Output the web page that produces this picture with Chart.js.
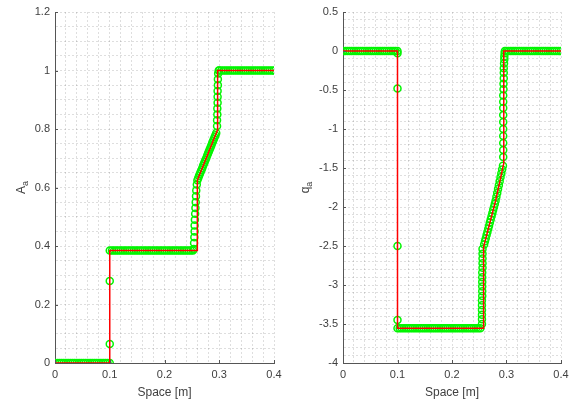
<!DOCTYPE html>
<html>
<head>
<meta charset="utf-8">
<script src="https://cdn.jsdelivr.net/npm/chart.js@4"></script>
<style>
  body { margin: 0; background: #fff; }
  #wrap { position: relative; width: 579px; height: 407px; }
  canvas { position: absolute; top: 0; }
</style>
</head>
<body>
<div id="wrap">
  <canvas id="graficoA" width="290" height="407" style="left:0"></canvas>
  <canvas id="graficoQ" width="289" height="407" style="left:290px"></canvas>
</div>
<script>
// Solucion exacta (linea roja) - area
const rojoAX = [0, 0.1, 0.1, 0.26, 0.26, 0.297, 0.297, 0.4];
const rojoAY = [0, 0, 0.385, 0.385, 0.625, 0.797, 1.0, 1.0];

// Solucion numerica (circulos verdes) - area
const verdeAX = [
  // tramo inicial
  0, 0.004, 0.008, 0.012, 0.016, 0.02, 0.024, 0.028, 0.032, 0.036, 0.04, 0.044, 0.048,
  0.052, 0.056, 0.06, 0.064, 0.068, 0.072, 0.076, 0.08, 0.084, 0.088, 0.092, 0.096, 0.1,
  // salto en x = 0.1
  0.1, 0.1, 0.1,
  // meseta
  0.104, 0.108, 0.112, 0.116, 0.12, 0.124, 0.128, 0.132, 0.136, 0.14, 0.144, 0.148, 0.152,
  0.156, 0.16, 0.164, 0.168, 0.172, 0.176, 0.18, 0.184, 0.188, 0.192, 0.196, 0.2,
  0.204, 0.208, 0.212, 0.216, 0.22, 0.224, 0.228, 0.232, 0.236, 0.24, 0.244, 0.248, 0.252,
  // subida
  0.2535, 0.254, 0.2545, 0.255, 0.255, 0.2555, 0.256, 0.2565, 0.257, 0.2575, 0.258, 0.259, 0.26,
  // rampa
  0.2615, 0.263, 0.2645, 0.266, 0.2675, 0.269, 0.2705, 0.272, 0.2735, 0.275, 0.2765, 0.278,
  0.2795, 0.281, 0.2825, 0.284, 0.2855, 0.287, 0.2885, 0.29, 0.2915, 0.293, 0.2945,
  // subida final
  0.296, 0.296, 0.2965, 0.2965, 0.297, 0.297, 0.297, 0.2975, 0.2975, 0.298, 0.299,
  // tramo final
  0.3, 0.304, 0.308, 0.312, 0.316, 0.32, 0.324, 0.328, 0.332, 0.336, 0.34, 0.344, 0.348,
  0.352, 0.356, 0.36, 0.364, 0.368, 0.372, 0.376, 0.38, 0.384, 0.388, 0.392, 0.396, 0.4
];
const verdeAY = [
  0, 0, 0, 0, 0, 0, 0, 0, 0, 0, 0, 0, 0,
  0, 0, 0, 0, 0, 0, 0, 0, 0, 0, 0, 0, 0,
  0.065, 0.28, 0.385,
  0.385, 0.385, 0.385, 0.385, 0.385, 0.385, 0.385, 0.385, 0.385, 0.385, 0.385, 0.385, 0.385,
  0.385, 0.385, 0.385, 0.385, 0.385, 0.385, 0.385, 0.385, 0.385, 0.385, 0.385, 0.385,
  0.385, 0.385, 0.385, 0.385, 0.385, 0.385, 0.385, 0.385, 0.385, 0.385, 0.385, 0.385, 0.385,
  0.39, 0.41, 0.43, 0.45, 0.47, 0.49, 0.51, 0.53, 0.55, 0.57, 0.59, 0.61, 0.625,
  0.632, 0.639, 0.646, 0.653, 0.66, 0.667, 0.674, 0.681, 0.688, 0.695, 0.702, 0.709,
  0.716, 0.723, 0.73, 0.737, 0.744, 0.751, 0.758, 0.765, 0.772, 0.779, 0.786,
  0.81, 0.83, 0.85, 0.87, 0.89, 0.91, 0.93, 0.95, 0.97, 0.99, 1.0,
  1, 1, 1, 1, 1, 1, 1, 1, 1, 1, 1, 1, 1,
  1, 1, 1, 1, 1, 1, 1, 1, 1, 1, 1, 1, 1
];

// Solucion exacta - caudal
const rojoQX = [0, 0.1, 0.1, 0.258, 0.258, 0.28, 0.295, 0.295, 0.4];
const rojoQY = [0, 0, -3.555, -3.555, -2.51, -1.92, -1.44, 0, 0];

// Solucion numerica - caudal
const verdeQX = [
  0, 0.004, 0.008, 0.012, 0.016, 0.02, 0.024, 0.028, 0.032, 0.036, 0.04, 0.044, 0.048,
  0.052, 0.056, 0.06, 0.064, 0.068, 0.072, 0.076, 0.08, 0.084, 0.088, 0.092, 0.096, 0.1,
  0.1, 0.1, 0.1, 0.1,
  0.1, 0.104, 0.108, 0.112, 0.116, 0.12, 0.124, 0.128, 0.132, 0.136, 0.14, 0.144, 0.148, 0.152,
  0.156, 0.16, 0.164, 0.168, 0.172, 0.176, 0.18, 0.184, 0.188, 0.192, 0.196, 0.2,
  0.204, 0.208, 0.212, 0.216, 0.22, 0.224, 0.228, 0.232, 0.236, 0.24, 0.244, 0.248, 0.252,
  0.255, 0.255, 0.255, 0.255, 0.255, 0.255, 0.2555, 0.2555, 0.2555, 0.2555, 0.2555, 0.2555,
  0.256, 0.256, 0.256, 0.256, 0.256,
  0.259, 0.2605, 0.262, 0.2635, 0.265, 0.2665, 0.268, 0.2695, 0.271, 0.2725, 0.274, 0.2755, 0.277, 0.2785, 0.28,
  0.2815, 0.283, 0.2845, 0.286, 0.2875, 0.289, 0.2905, 0.292, 0.2935,
  0.294, 0.294, 0.294, 0.294, 0.294, 0.294, 0.294, 0.294, 0.294, 0.294,
  0.2945, 0.2945, 0.295, 0.295, 0.295, 0.2955, 0.296, 0.296, 0.2965, 0.297,
  0.3, 0.304, 0.308, 0.312, 0.316, 0.32, 0.324, 0.328, 0.332, 0.336, 0.34, 0.344, 0.348,
  0.352, 0.356, 0.36, 0.364, 0.368, 0.372, 0.376, 0.38, 0.384, 0.388, 0.392, 0.396, 0.4
];
const verdeQY = [
  0, 0, 0, 0, 0, 0, 0, 0, 0, 0, 0, 0, 0,
  0, 0, 0, 0, 0, 0, 0, 0, 0, 0, 0, 0, 0,
  -0.03, -0.48, -2.5, -3.45,
  -3.555, -3.555, -3.555, -3.555, -3.555, -3.555, -3.555, -3.555, -3.555, -3.555, -3.555, -3.555, -3.555, -3.555,
  -3.555, -3.555, -3.555, -3.555, -3.555, -3.555, -3.555, -3.555, -3.555, -3.555, -3.555, -3.555,
  -3.555, -3.555, -3.555, -3.555, -3.555, -3.555, -3.555, -3.555, -3.555, -3.555, -3.555, -3.555, -3.555,
  -3.5, -3.44, -3.38, -3.32, -3.26, -3.2, -3.14, -3.08, -3.02, -2.96, -2.9, -2.84,
  -2.78, -2.72, -2.66, -2.6, -2.54,
  -2.48, -2.44, -2.4, -2.36, -2.32, -2.28, -2.24, -2.2, -2.16, -2.12, -2.08, -2.04, -2.0, -1.96, -1.92,
  -1.87, -1.82, -1.77, -1.72, -1.67, -1.62, -1.57, -1.52, -1.47,
  -1.36, -1.27, -1.18, -1.09, -1.0, -0.91, -0.82, -0.73, -0.65, -0.57,
  -0.49, -0.42, -0.35, -0.28, -0.22, -0.16, -0.11, -0.07, -0.03, 0,
  0, 0, 0, 0, 0, 0, 0, 0, 0, 0, 0, 0, 0,
  0, 0, 0, 0, 0, 0, 0, 0, 0, 0, 0, 0, 0
];

const fuente = "'Liberation Sans', Arial, sans-serif";
const colorTexto = '#404040';
const colorEje = '#555';

function puntos(xs, ys) {
  return xs.map((x, i) => ({ x: x, y: ys[i] }));
}

// Titulo del eje Y con subindice y marcas hacia dentro (estilo MATLAB)
const estiloMatlab = {
  id: 'estiloMatlab',
  afterDraw(chart, args, opts) {
    const ctx = chart.ctx;
    const area = chart.chartArea;
    ctx.save();
    ctx.strokeStyle = colorEje;
    ctx.lineWidth = 1;
    chart.scales.x.ticks.forEach(t => {
      if (!t.label) return;
      const px = Math.round(chart.scales.x.getPixelForValue(t.value)) + 0.5;
      ctx.beginPath();
      ctx.moveTo(px, area.bottom);
      ctx.lineTo(px, area.bottom - 3);
      ctx.stroke();
    });
    chart.scales.y.ticks.forEach(t => {
      if (!t.label) return;
      const py = Math.round(chart.scales.y.getPixelForValue(t.value)) + 0.5;
      ctx.beginPath();
      ctx.moveTo(area.left, py);
      ctx.lineTo(area.left + 3, py);
      ctx.stroke();
    });
    // titulo Y
    const cy = (area.top + area.bottom) / 2;
    ctx.translate(opts.x, cy);
    ctx.rotate(-Math.PI / 2);
    ctx.fillStyle = colorTexto;
    ctx.textBaseline = 'alphabetic';
    ctx.font = '12px ' + fuente;
    const w1 = ctx.measureText(opts.main).width;
    ctx.font = '9px ' + fuente;
    const w2 = ctx.measureText(opts.sub).width;
    const x0 = -(w1 + w2) / 2;
    ctx.font = '12px ' + fuente;
    ctx.fillText(opts.main, x0, 4);
    ctx.font = '9px ' + fuente;
    ctx.fillText(opts.sub, x0 + w1, 7);
    ctx.restore();
  }
};

function crearGrafico(id, rx, ry, vx, vy, ejeY, anchoY, derecha, tituloY) {
  const ctx = document.getElementById(id).getContext('2d');
  return new Chart(ctx, {
    type: 'scatter',
    data: {
      datasets: [
        {
          data: puntos(rx, ry),
          showLine: true,
          borderColor: '#ff0000',
          borderWidth: 1.5,
          pointRadius: 0,
          fill: false
        },
        {
          data: puntos(vx, vy),
          showLine: false,
          pointStyle: 'circle',
          pointRadius: 3.5,
          pointBorderWidth: 1.5,
          pointBorderColor: '#00f500',
          pointBackgroundColor: 'rgba(0,0,0,0)'
        }
      ]
    },
    options: {
      responsive: false,
      devicePixelRatio: 1,
      animation: false,
      layout: { padding: { top: 12, right: derecha, left: 0, bottom: 0 } },
      plugins: {
        legend: { display: false },
        tooltip: { enabled: false },
        estiloMatlab: tituloY
      },
      scales: {
        x: {
          type: 'linear',
          min: 0,
          max: 0.4,
          afterFit: s => { s.height = 44; },
          ticks: {
            stepSize: 0.02,
            autoSkip: false,
            maxRotation: 0,
            padding: 5,
            color: colorTexto,
            font: { family: fuente, size: 11 },
            callback: v => (Math.round(v * 100) % 10 === 0 ? String(Math.round(v * 10) / 10) : '')
          },
          grid: { color: 'rgba(0,0,0,0.13)', drawTicks: false },
          border: { display: true, color: colorEje, width: 1, dash: [2, 2] },
          title: {
            display: true,
            text: 'Space [m]',
            color: colorTexto,
            font: { family: fuente, size: 12 },
            padding: { top: 4, bottom: 7 }
          }
        },
        y: {
          type: 'linear',
          min: ejeY.min,
          max: ejeY.max,
          afterFit: s => { s.width = anchoY; },
          ticks: {
            stepSize: ejeY.paso,
            autoSkip: false,
            padding: 5,
            color: colorTexto,
            font: { family: fuente, size: 11 },
            callback: ejeY.etiqueta
          },
          grid: { color: 'rgba(0,0,0,0.13)', drawTicks: false },
          border: { display: true, color: colorEje, width: 1, dash: [2, 2] }
        }
      }
    },
    plugins: [estiloMatlab]
  });
}

const ejeA = {
  min: 0, max: 1.2, paso: 0.05,
  etiqueta: v => (Math.round(v * 100) % 20 === 0 ? String(Math.round(v * 10) / 10) : '')
};
const ejeQ = {
  min: -4, max: 0.5, paso: 0.1,
  etiqueta: v => (Math.round(v * 10) % 5 === 0 ? String(Math.round(v * 10) / 10) : '')
};

crearGrafico('graficoA', rojoAX, rojoAY, verdeAX, verdeAY, ejeA, 55, 16, { main: 'A', sub: 'a', x: 21 });
crearGrafico('graficoQ', rojoQX, rojoQY, verdeQX, verdeQY, ejeQ, 53, 18, { main: 'q', sub: 'a', x: 15 });
</script>
</body>
</html>
